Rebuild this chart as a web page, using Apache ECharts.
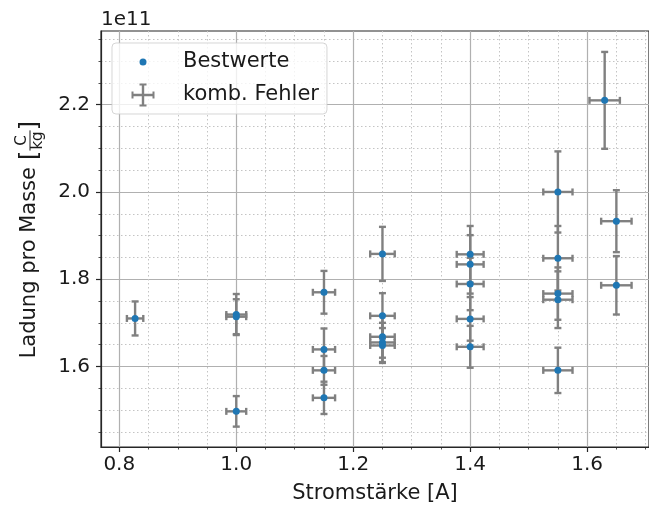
<!DOCTYPE html>
<html>
<head>
<meta charset="utf-8">
<script src="https://cdn.jsdelivr.net/npm/echarts@6/dist/echarts.min.js"></script>
<style>
  html, body { margin: 0; padding: 0; background: #fff; }
  #chart { width: 649px; height: 509px; }
</style>
</head>
<body>
<div id="chart"></div>
<script>
// Messwerte: Stromstärke [A], e/m in Einheiten von 1e11 C/kg
const stromstaerke = [0.827, 1.0, 1.0, 1.0, 1.15, 1.15, 1.15, 1.15, 1.25, 1.25, 1.25, 1.25, 1.25,
  1.4, 1.4, 1.4, 1.4, 1.4, 1.55, 1.55, 1.55, 1.55, 1.55, 1.63, 1.65, 1.65];
const ladungProMasse = [1.710, 1.719, 1.714, 1.497, 1.770, 1.639, 1.591, 1.528, 1.858, 1.716, 1.668, 1.655, 1.648,
  1.857, 1.834, 1.789, 1.709, 1.645, 2.000, 1.848, 1.767, 1.753, 1.591, 2.210, 1.933, 1.786];
const fehlerStrom = [0.014, 0.017, 0.017, 0.017, 0.019, 0.019, 0.019, 0.019, 0.021, 0.021, 0.021, 0.021, 0.021,
  0.023, 0.023, 0.023, 0.023, 0.023, 0.025, 0.025, 0.025, 0.025, 0.025, 0.026, 0.026, 0.026];
const fehlerLadung = [0.039, 0.047, 0.040, 0.035, 0.049, 0.048, 0.033, 0.037, 0.062, 0.052, 0.048, 0.045, 0.040,
  0.065, 0.067, 0.060, 0.050, 0.048, 0.093, 0.074, 0.060, 0.065, 0.052, 0.111, 0.071, 0.067];

// Achsenticks
const xMajorTicks = [0.8, 1.0, 1.2, 1.4, 1.6];
const xMinorTicks = [0.85, 0.9, 0.95, 1.05, 1.1, 1.15, 1.25, 1.3, 1.35, 1.45, 1.5, 1.55, 1.65, 1.7];
const yMajorTicks = [1.6, 1.8, 2.0, 2.2];
const yMinorTicks = [1.45, 1.5, 1.55, 1.65, 1.7, 1.75, 1.85, 1.9, 1.95, 2.05, 2.1, 2.15, 2.25, 2.3, 2.35];

const FONT = 'DejaVu Sans';
const TEXT = '#1a1a1a';
const SPINE = '#262626';
const ERR = '#808080';
const X_MIN = 0.7687, X_MAX = 1.7058;
const Y_MIN = 1.4153, Y_MAX = 2.369;

const chart = echarts.init(document.getElementById('chart'));

// Textbreiten für die y-Beschriftung mit Bruch
const ctx = document.createElement('canvas').getContext('2d');
function textWidth(s, size) {
  ctx.font = size + 'px "' + FONT + '"';
  return ctx.measureText(s).width;
}
const labelSize = 21, bracketSize = 25, fracSize = 15;
const wMain = textWidth('Ladung pro Masse ', labelSize);
const wBr = textWidth('[', bracketSize);
const wFrac = Math.max(textWidth('C', fracSize), textWidth('kg', fracSize)) + 2;
const total = wMain + wBr + wFrac + wBr;
const x0 = -total / 2;
const fracMid = x0 + wMain + wBr + wFrac / 2;

function txt(text, x, y, size, align) {
  return {
    type: 'text', x: x, y: y,
    style: { text: text, fontSize: size, fontFamily: FONT, fill: TEXT,
      textAlign: align || 'left', align: align || 'left',
      textVerticalAlign: 'middle', verticalAlign: 'middle' }
  };
}

// Fehlerbalken zeichnen
function renderErrorBar(params, api) {
  const x = api.value(0), y = api.value(1), dx = api.value(2), dy = api.value(3);
  const top = api.coord([x, y + dy]), bottom = api.coord([x, y - dy]);
  const left = api.coord([x - dx, y]), right = api.coord([x + dx, y]);
  const cap = 3.5;
  const style = { stroke: ERR, lineWidth: 2.4 };
  const line = (x1, y1, x2, y2) => ({ type: 'line', shape: { x1, y1, x2, y2 }, style });
  return {
    type: 'group',
    children: [
      line(top[0], top[1], bottom[0], bottom[1]),
      line(left[0], left[1], right[0], right[1]),
      line(top[0] - cap, top[1], top[0] + cap, top[1]),
      line(bottom[0] - cap, bottom[1], bottom[0] + cap, bottom[1]),
      line(left[0], left[1] - cap, left[0], left[1] + cap),
      line(right[0], right[1] - cap, right[0], right[1] + cap)
    ]
  };
}

const anchors = 'M0,0h0.01v0.01h-0.01z M57.99,23.99h0.01v0.01h-0.01z ';
const dotIcon = 'path://' + anchors + 'M19.5,12a3.5,3.5 0 1,0 7,0a3.5,3.5 0 1,0 -7,0z';
const errIcon = 'path://' + anchors +
  'M12.5,10.8h21v2.4h-21z M21.8,1.5h2.4v21h-2.4z M19.5,0.5h7v2h-7z M19.5,21.5h7v2h-7z ' +
  'M11.5,8.5h2v7h-2z M32.5,8.5h2v7h-2z';

const option = {
  animation: false,
  textStyle: { fontFamily: FONT },
  grid: {
    left: 101, top: 31, right: -2, bottom: 61,
    show: true, borderColor: SPINE, borderWidth: 1.2, backgroundColor: 'transparent'
  },
  legend: {
    left: 112, top: 43,
    orient: 'vertical',
    itemWidth: 58, itemHeight: 24, itemGap: 9,
    padding: [7, 8, 7, 8],
    backgroundColor: 'rgba(255,255,255,0.8)',
    borderColor: 'rgba(204,204,204,0.8)', borderWidth: 1, borderRadius: 4,
    textStyle: { fontSize: 21, color: TEXT, fontFamily: FONT },
    data: [
      { name: 'Bestwerte', icon: dotIcon },
      { name: 'komb. Fehler', icon: errIcon }
    ]
  },
  xAxis: [{
    type: 'value', min: X_MIN, max: X_MAX, position: 'bottom',
    name: 'Stromstärke [A]', nameLocation: 'middle', nameGap: 36,
    nameTextStyle: { fontSize: 21, color: TEXT, fontFamily: FONT },
    axisLine: { show: true, lineStyle: { color: SPINE, width: 1.2 } },
    axisTick: { show: true, customValues: xMajorTicks, length: 5, lineStyle: { color: SPINE, width: 1.2 } },
    axisLabel: { customValues: xMajorTicks, formatter: v => v.toFixed(1), fontSize: 20, color: TEXT, margin: 8 },
    splitLine: { show: true, lineStyle: { color: '#b0b0b0', width: 1.2 } }
  }, {
    type: 'value', min: X_MIN, max: X_MAX, position: 'bottom',
    axisLine: { show: false },
    axisTick: { show: true, customValues: xMinorTicks, length: 2.5, lineStyle: { color: SPINE, width: 0.8 } },
    axisLabel: { show: false },
    splitLine: { show: true, lineStyle: { color: '#c4c4c4', width: 1, type: [1.5, 2.5] } }
  }],
  yAxis: [{
    type: 'value', min: Y_MIN, max: Y_MAX, position: 'left',
    axisLine: { show: true, lineStyle: { color: SPINE, width: 1.2 } },
    axisTick: { show: true, customValues: yMajorTicks, length: 5, lineStyle: { color: SPINE, width: 1.2 } },
    axisLabel: { customValues: yMajorTicks, formatter: v => v.toFixed(1), fontSize: 20, color: TEXT, margin: 11 },
    splitLine: { show: true, lineStyle: { color: '#b0b0b0', width: 1.2 } }
  }, {
    type: 'value', min: Y_MIN, max: Y_MAX, position: 'left',
    axisLine: { show: false },
    axisTick: { show: true, customValues: yMinorTicks, length: 2.5, lineStyle: { color: SPINE, width: 0.8 } },
    axisLabel: { show: false },
    splitLine: { show: true, lineStyle: { color: '#c4c4c4', width: 1, type: [1.5, 2.5] } }
  }],
  series: [{
    name: 'komb. Fehler',
    type: 'custom',
    renderItem: renderErrorBar,
    itemStyle: { color: ERR },
    encode: { x: 0, y: 1 },
    data: stromstaerke.map((x, i) => [x, ladungProMasse[i], fehlerStrom[i], fehlerLadung[i]]),
    z: 3
  }, {
    name: 'Bestwerte',
    type: 'scatter',
    symbol: 'circle',
    symbolSize: 7,
    itemStyle: { color: '#1f77b4', opacity: 1 },
    data: stromstaerke.map((x, i) => [x, ladungProMasse[i]]),
    z: 4
  }],
  graphic: [{
    type: 'text', left: 101, top: 10,
    style: { text: '1e11', fontSize: 20, fontFamily: FONT, fill: TEXT }
  }, {
    type: 'group', x: 30, y: 239.5, rotation: Math.PI / 2,
    children: [
      txt('Ladung pro Masse ', x0, 0, labelSize),
      txt('[', x0 + wMain, 0, bracketSize),
      txt('C', fracMid, -8, fracSize, 'center'),
      {
        type: 'line',
        shape: { x1: fracMid - wFrac / 2, y1: 0, x2: fracMid + wFrac / 2, y2: 0 },
        style: { stroke: TEXT, lineWidth: 1 }
      },
      txt('kg', fracMid, 8, fracSize, 'center'),
      txt(']', x0 + wMain + wBr + wFrac, 0, bracketSize)
    ]
  }]
};

chart.setOption(option);
window.addEventListener('resize', () => chart.resize());
</script>
</body>
</html>
